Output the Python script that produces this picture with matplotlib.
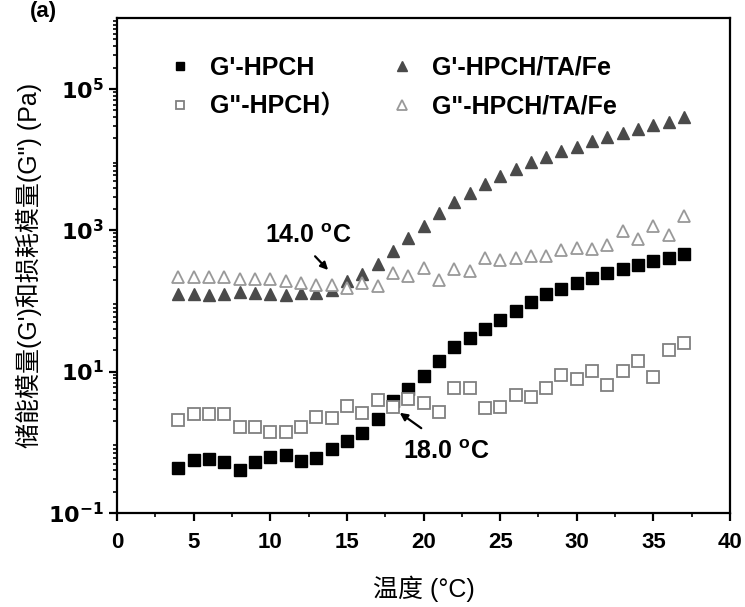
import matplotlib
matplotlib.use('Agg')
import matplotlib.pyplot as plt
import numpy as np

plt.rcParams['font.family'] = ['Liberation Sans', 'Noto Sans CJK SC', 'DejaVu Sans']

temp = np.arange(4, 38)

g1_hpch = [0.43, 0.56, 0.58, 0.52, 0.41, 0.52, 0.62, 0.67, 0.55, 0.60,
           0.80, 1.03, 1.35, 2.1, 3.8, 5.6, 8.6, 14, 22, 30,
           40, 54, 73, 97, 124, 149, 181, 208, 251, 280,
           322, 367, 410, 457]
g2_hpch = [2.08, 2.52, 2.52, 2.54, 1.62, 1.62, 1.40, 1.38, 1.62, 2.25,
           2.2, 3.3, 2.6, 4.0, 3.2, 4.1, 3.6, 2.7, 5.9, 5.9,
           3.1, 3.2, 4.6, 4.4, 5.9, 8.8, 7.9, 10.1, 6.5, 10.1,
           14, 8.4, 20.5, 25]
g1_ta = [124, 124, 120, 127, 133, 128, 127, 120, 128, 131,
         141, 191, 238, 330, 509, 775, 1160, 1740, 2470, 3310,
         4490, 5780, 7330, 9120, 10960, 13300, 15200, 18100, 20600, 23500,
         27100, 31200, 34400, 39700]
g2_ta = [220, 220, 220, 220, 206, 206, 202, 191, 181, 166,
         166, 154, 177, 162, 245, 225, 296, 195, 286, 265,
         410, 379, 401, 432, 432, 525, 568, 537, 618, 977,
         762, 1130, 849, 1600]

fig = plt.figure(figsize=(7.45, 6.07), dpi=100)
ax = fig.add_axes([0.157, 0.155, 0.823, 0.815])

ax.plot(temp, g1_hpch, 's', color='black', ms=8, ls='none', label="G'-HPCH")
ax.plot(temp, g2_hpch, 's', mfc='white', mec='#808080', mew=1.3, ms=8, ls='none', label='G"-HPCH）')
ax.plot(temp, g1_ta, '^', color='#4a4a4a', ms=9, ls='none', label="G'-HPCH/TA/Fe")
ax.plot(temp, g2_ta, '^', mfc='white', mec='#999999', mew=1.3, ms=9, ls='none', label='G"-HPCH/TA/Fe')

ax.set_yscale('log')
ax.set_ylim(0.1, 1e6)
ax.set_xlim(0, 40)
ax.set_xticks(range(0, 41, 5))
ax.set_xticks(np.arange(2.5, 40, 5), minor=True)
ax.set_yticks([0.1, 10, 1000, 1e5])
ax.set_yticklabels(['$\\mathbf{10^{-1}}$', '$\\mathbf{10^{1}}$', '$\\mathbf{10^{3}}$', '$\\mathbf{10^{5}}$'])

for s in ax.spines.values():
    s.set_linewidth(1.6)
ax.tick_params(axis='both', which='major', direction='out', length=6, width=1.6)
ax.tick_params(axis='y', which='major', labelsize=16)
ax.tick_params(axis='x', which='major', labelsize=16, pad=8)
ax.tick_params(axis='both', which='minor', direction='out', length=3, width=1.2)
for lab in ax.get_xticklabels():
    lab.set_fontweight('bold')

ax.legend(ncol=2, loc='upper left', bbox_to_anchor=(0.045, 0.97), frameon=False,
          prop={'weight': 'bold', 'size': 18}, handletextpad=0.7, columnspacing=1.8,
          labelspacing=0.6, handlelength=1.0, markerscale=0.75)

ax.text(12.5, 820, '14.0 $\\mathregular{^{o}}$C', fontsize=18, fontweight='bold',
        ha='center', va='center')
ax.annotate('', xy=(13.9, 256), xytext=(12.8, 457),
            arrowprops=dict(arrowstyle='-|>', color='black', lw=1.6, mutation_scale=11))
ax.text(21.5, 0.73, '18.0 $\\mathregular{^{o}}$C', fontsize=18, fontweight='bold',
        ha='center', va='center')
ax.annotate('', xy=(18.3, 2.75), xytext=(20.0, 1.5),
            arrowprops=dict(arrowstyle='-|>', color='black', lw=1.6, mutation_scale=11))

ax.set_xlabel('温度 (°C)', fontsize=18, labelpad=16)
ax.set_ylabel('储能模量(G\')和损耗模量(G") (Pa)', fontsize=18, labelpad=4)

fig.text(0.04, 0.998, '(a)', fontsize=16, fontweight='bold', va='top')

fig.savefig('out.png', dpi=100)
